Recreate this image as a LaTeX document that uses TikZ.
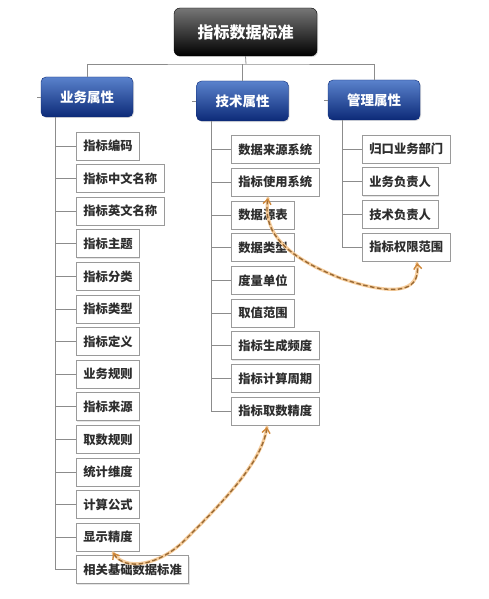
\documentclass[tikz,border=0pt]{standalone}
\usepackage{fontspec}
\newfontfamily\cjk{Noto Sans CJK SC}
\usetikzlibrary{arrows.meta,shadows}
\definecolor{conncol}{HTML}{8C8C8C}
\definecolor{itemborder}{HTML}{9A9A9A}
\definecolor{itemtext}{HTML}{2E2E2E}
\definecolor{blueTop}{HTML}{5A82CC}
\definecolor{blueMid}{HTML}{2A56AA}
\definecolor{blueBot}{HTML}{0C2A78}
\definecolor{rootTop}{HTML}{767676}
\definecolor{glow}{HTML}{F6CD9C}
\definecolor{dashcol}{HTML}{9A6A35}
\definecolor{tipcol}{HTML}{D0883A}
\tikzset{
  conn/.style={draw=conncol, line width=0.8pt},
  item/.style={draw=itemborder, fill=white, line width=0.8pt, anchor=west,
    minimum height=28pt, inner xsep=7pt, inner ysep=0pt, text=itemtext,
    font=\cjk\bfseries\fontsize{12.3}{14}\selectfont,
    drop shadow={shadow xshift=0.8pt, shadow yshift=-0.8pt, opacity=0.2}},
  cat/.style={rounded corners=5pt, minimum width=92pt, minimum height=40pt,
    top color=blueTop, middle color=blueMid, bottom color=blueBot, draw=blueBot,
    text=white, font=\cjk\bfseries\fontsize{13.5}{15}\selectfont,
    drop shadow={shadow xshift=1pt, shadow yshift=-1pt, opacity=0.25}},
  rootbox/.style={rounded corners=6pt, minimum width=143pt, minimum height=48pt,
    top color=rootTop, middle color=black!95, bottom color=black, draw=black,
    text=white, font=\cjk\bfseries\fontsize{16}{18}\selectfont,
    drop shadow={shadow xshift=1pt, shadow yshift=-1pt, opacity=0.3}},
  glowline/.style={draw=glow, line width=3.2pt, line cap=round},
  dashline/.style={draw=dashcol, line width=1.4pt, dash pattern=on 4.5pt off 2.5pt,
    {Straight Barb[length=5pt,width=8pt,line width=1.4pt,color=tipcol]}-{Straight Barb[length=5pt,width=8pt,line width=1.4pt,color=tipcol]}}
}
\begin{document}
\begin{tikzpicture}[x=1pt,y=-1pt]
\fill[white] (0,0) rectangle (488,599);
\useasboundingbox (0,0) rectangle (488,599);

% root and categories
\node[rootbox] (root) at (245.5,32) {指标数据标准};
\node[cat] (c1) at (87,97) {业务属性};
\node[cat] (c2) at (242.5,101) {技术属性};
\node[cat] (c3) at (374,100) {管理属性};

\coordinate (hub) at (246,64);
\draw[conn] (root.south) -- (hub);
\draw[conn] (c1.north) |- (hub) -| (c3.north);
\draw[conn] (c2.north) -- (c2.north |- hub);

% small stubs
\draw[conn] (c1.west) -- ++(-4,0);
\draw[conn] (c2.west) -- ++(-4,0);
\draw[conn] (c3.west) -- ++(-4,0);

% left column
\coordinate (tl) at (55,117);
\foreach \t [count=\i] in {指标编码,指标中文名称,指标英文名称,指标主题,指标分类,指标类型,指标定义,业务规则,指标来源,取数规则,统计维度,计算公式,显示精度,相关基础数据标准}{
  \node[item] (l\i) at (76,{146+32.6*(\i-1)}) {\t};
  \draw[conn] (l\i.west) -- (l\i.west -| tl);
}
\draw[conn] (tl) |- (l14.west);

% middle column
\coordinate (tm) at (211,121);
\foreach \t [count=\i] in {数据来源系统,指标使用系统,数据源表,数据类型,度量单位,取值范围,指标生成频度,指标计算周期,指标取数精度}{
  \node[item] (m\i) at (231,{149.5+32.7*(\i-1)}) {\t};
  \draw[conn] (m\i.west) -- (m\i.west -| tm);
}
\draw[conn] (tm) |- (m9.west);

% right column
\coordinate (tr) at (342,120);
\foreach \t [count=\i] in {归口业务部门,业务负责人,技术负责人,指标权限范围}{
  \node[item] (r\i) at (362,{149+32.7*(\i-1)}) {\t};
  \draw[conn] (r\i.west) -- (r\i.west -| tr);
}
\draw[conn] (tr) |- (r4.west);

% dashed relation arrows
\coordinate (a1) at ([xshift=37pt,yshift=-1.5pt]m2.south west);
\coordinate (a2) at ([xshift=55pt,yshift=-1.5pt]r4.south west);
\coordinate (b1) at ([xshift=37pt,yshift=-1pt]l13.south west);
\coordinate (b2) at ([xshift=36pt,yshift=-1.5pt]m9.south west);

\path[glowline] (a1) .. controls (262,235) and (290,258) .. (340,278)
  .. controls (390,295) and (421,295) .. (a2);
\path[dashline] (a1) .. controls (262,235) and (290,258) .. (340,278)
  .. controls (390,295) and (421,295) .. (a2);

\path[glowline] (b1) .. controls (125,572) and (160,565) .. (185,540)
  .. controls (230,495) and (262,460) .. (b2);
\path[dashline] (b1) .. controls (125,572) and (160,565) .. (185,540)
  .. controls (230,495) and (262,460) .. (b2);
\end{tikzpicture}
\end{document}
